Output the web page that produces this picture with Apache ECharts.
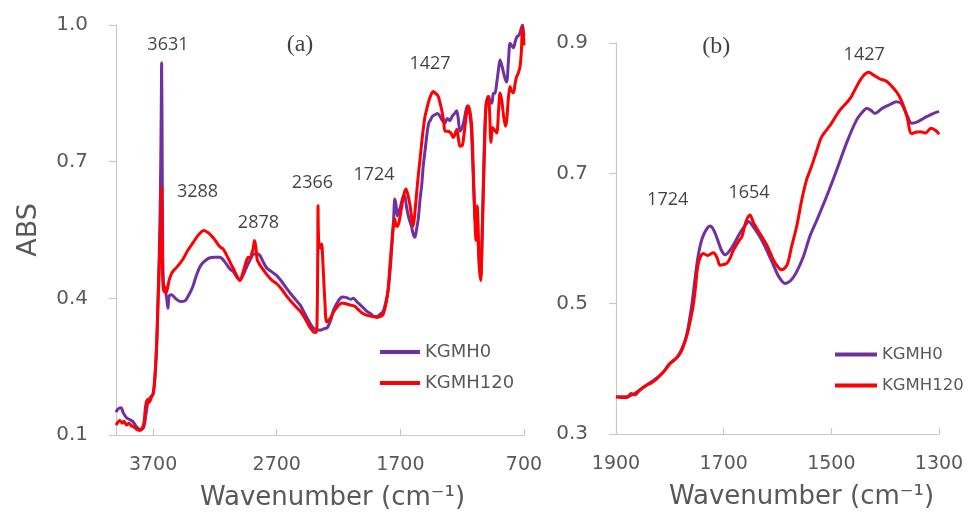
<!DOCTYPE html>
<html>
<head>
<meta charset="utf-8">
<script src="https://cdn.jsdelivr.net/npm/echarts@6/dist/echarts.min.js"></script>
<style>
  html, body { margin: 0; padding: 0; background: #fff; }
  #chart { width: 968px; height: 516px; }
</style>
</head>
<body>
<div id="chart"></div>
<script>
// FTIR absorbance spectra of KGMH0 and KGMH120, full range (a) and 1900–1300 cm-1 zoom (b)

const seriesNames = ['KGMH0', 'KGMH120'];

// Panel (a): wavenumber (cm-1) and absorbance
const fullWave0 = [4000,3985,3960,3940,3915,3890,3865,3840,3815,3795,3775,3755,3740,3720,3700,3685,3670,3660,3650,3640,3633,3631,3628,3622,3615,3600,3590,3580,3570,3550,3520,3480,3440,3410,3380,3350,3320,3290,3250,3200,3160,3120,3080,3050,3020,2998,2970,2944,2915,2890,2860,2836,2810,2782,2740,2700,2660,2620,2580,2540,2510,2470,2440,2405,2380,2350,2320,2290,2260,2240,2200,2170,2140,2100,2080,2050,2010,1973,1940,1910,1892,1860,1838,1815,1798,1780,1765,1755,1745,1735,1725,1715,1700,1680,1665,1650,1630,1612,1595,1582,1570,1555,1540,1528,1515,1500,1485,1470,1455,1440,1420,1400,1380,1360,1340,1320,1300,1280,1260,1245,1232,1218,1200,1185,1170,1158,1145,1128,1115,1102,1090,1080,1070,1060,1050,1040,1030,1018,1007,995,985,975,960,948,935,921,905,894,880,865,850,840,826,813,800,785,770,755,740,725,712,705,700];
const fullAbs0 = [0.150,0.157,0.160,0.148,0.138,0.134,0.130,0.120,0.113,0.112,0.118,0.150,0.175,0.183,0.190,0.225,0.300,0.400,0.500,0.650,0.850,0.917,0.800,0.500,0.430,0.415,0.400,0.378,0.405,0.408,0.400,0.393,0.395,0.408,0.425,0.450,0.470,0.480,0.488,0.490,0.490,0.480,0.465,0.458,0.445,0.440,0.452,0.468,0.485,0.497,0.498,0.494,0.480,0.467,0.458,0.450,0.437,0.422,0.408,0.395,0.385,0.365,0.350,0.335,0.332,0.330,0.333,0.336,0.355,0.375,0.395,0.403,0.402,0.398,0.400,0.392,0.382,0.372,0.366,0.360,0.360,0.366,0.372,0.395,0.420,0.470,0.530,0.570,0.618,0.605,0.581,0.590,0.600,0.622,0.625,0.600,0.575,0.560,0.540,0.534,0.550,0.575,0.620,0.647,0.690,0.725,0.760,0.785,0.792,0.800,0.803,0.806,0.800,0.790,0.785,0.795,0.790,0.800,0.806,0.812,0.795,0.767,0.775,0.790,0.812,0.822,0.815,0.780,0.700,0.610,0.560,0.600,0.520,0.470,0.445,0.520,0.640,0.760,0.825,0.840,0.843,0.830,0.828,0.850,0.850,0.872,0.905,0.923,0.912,0.895,0.880,0.875,0.920,0.960,0.955,0.950,0.965,0.975,0.978,0.990,1.000,0.985,0.975];

const fullWave120 = [4000,3985,3970,3950,3935,3915,3895,3875,3855,3830,3810,3795,3775,3760,3745,3730,3715,3700,3685,3670,3660,3650,3640,3633,3631,3628,3622,3615,3605,3595,3585,3570,3550,3537,3510,3480,3456,3420,3375,3340,3310,3290,3260,3230,3200,3160,3133,3100,3070,3052,3020,2998,2975,2950,2930,2915,2900,2890,2880,2870,2858,2840,2815,2780,2740,2700,2660,2620,2580,2540,2510,2470,2440,2405,2385,2375,2368,2366,2360,2345,2337,2325,2310,2296,2270,2240,2200,2170,2140,2100,2070,2040,2000,1960,1920,1890,1860,1838,1815,1800,1785,1770,1757,1745,1735,1725,1711,1690,1670,1655,1640,1622,1608,1596,1582,1568,1555,1541,1528,1515,1500,1487,1474,1455,1434,1415,1393,1380,1366,1350,1339,1320,1300,1285,1272,1258,1244,1230,1218,1200,1185,1164,1151,1137,1123,1112,1102,1088,1078,1070,1062,1050,1040,1029,1016,1007,989,980,967,955,940,921,905,894,880,865,850,840,826,813,800,785,770,759,745,732,722,712,705,700];
const fullAbs120 = [0.122,0.128,0.132,0.126,0.130,0.122,0.126,0.120,0.118,0.112,0.110,0.112,0.125,0.165,0.178,0.172,0.182,0.190,0.230,0.310,0.390,0.470,0.560,0.620,0.644,0.560,0.440,0.415,0.425,0.412,0.420,0.440,0.455,0.460,0.468,0.478,0.487,0.505,0.523,0.537,0.546,0.549,0.545,0.538,0.528,0.513,0.508,0.492,0.475,0.466,0.448,0.439,0.455,0.478,0.490,0.488,0.500,0.510,0.527,0.515,0.485,0.475,0.465,0.452,0.440,0.432,0.420,0.405,0.392,0.380,0.372,0.355,0.340,0.327,0.325,0.335,0.500,0.603,0.520,0.510,0.520,0.470,0.390,0.348,0.355,0.370,0.385,0.390,0.388,0.385,0.383,0.375,0.366,0.362,0.360,0.358,0.360,0.366,0.390,0.417,0.470,0.520,0.559,0.574,0.560,0.558,0.567,0.600,0.630,0.640,0.628,0.605,0.575,0.559,0.590,0.632,0.670,0.705,0.740,0.771,0.800,0.815,0.829,0.845,0.854,0.850,0.843,0.830,0.814,0.790,0.767,0.767,0.765,0.760,0.753,0.760,0.771,0.750,0.734,0.735,0.760,0.807,0.822,0.810,0.778,0.700,0.610,0.527,0.603,0.540,0.472,0.439,0.520,0.632,0.760,0.822,0.843,0.820,0.742,0.775,0.770,0.763,0.815,0.851,0.835,0.800,0.778,0.790,0.840,0.865,0.855,0.851,0.875,0.887,0.895,0.909,0.938,0.996,0.980,0.955];

// Panel (b): 1900–1300 cm-1 detail
const zoomWave0 = [1900,1890,1880,1868,1855,1843,1824,1812,1800,1787,1775,1768,1763,1758,1753,1747,1740,1732,1725,1718,1710,1703,1697,1690,1682,1670,1660,1654,1645,1633,1620,1608,1598,1586,1575,1565,1552,1540,1527,1509,1490,1472,1453,1440,1434,1427,1419,1405,1390,1379,1370,1360,1351,1340,1323,1310,1300];
const zoomAbs0 = [0.357,0.357,0.357,0.361,0.368,0.375,0.386,0.395,0.408,0.417,0.436,0.455,0.478,0.505,0.540,0.575,0.600,0.614,0.619,0.612,0.595,0.580,0.575,0.580,0.590,0.608,0.620,0.626,0.618,0.603,0.582,0.560,0.542,0.531,0.536,0.548,0.572,0.603,0.628,0.664,0.705,0.746,0.782,0.796,0.800,0.797,0.792,0.800,0.806,0.810,0.807,0.790,0.777,0.779,0.787,0.792,0.795];

const zoomWave120 = [1900,1890,1880,1872,1865,1855,1843,1835,1824,1812,1800,1790,1782,1775,1768,1763,1757,1753,1747,1738,1730,1719,1712,1707,1700,1694,1688,1682,1672,1666,1659,1651,1645,1633,1620,1608,1598,1592,1582,1574,1564,1555,1546,1537,1527,1518,1502,1484,1465,1450,1440,1431,1420,1410,1397,1379,1370,1360,1351,1343,1335,1325,1315,1305,1300];
const zoomAbs120 = [0.357,0.356,0.356,0.362,0.360,0.368,0.375,0.378,0.385,0.395,0.408,0.415,0.422,0.434,0.452,0.470,0.495,0.520,0.562,0.577,0.574,0.578,0.570,0.559,0.560,0.562,0.570,0.582,0.596,0.603,0.625,0.636,0.625,0.608,0.590,0.568,0.555,0.552,0.560,0.587,0.620,0.659,0.690,0.710,0.735,0.756,0.774,0.797,0.815,0.838,0.850,0.855,0.850,0.845,0.841,0.825,0.812,0.789,0.761,0.763,0.764,0.762,0.769,0.765,0.760];

// Tick values
const fullXTicks = [3700, 2700, 1700, 700];
const fullYTicks = [0.1, 0.4, 0.7, 1.0];
const zoomXTicks = [1900, 1700, 1500, 1300];
const zoomYTicks = [0.3, 0.5, 0.7, 0.9];

// Peak annotations: text and anchor in data units
const fullNotes = [['3631', 3580, 0.956], ['3288', 3341, 0.633], ['2878', 2848, 0.565], ['2366', 2411, 0.653], ['1724', 1913, 0.670], ['1427', 1460, 0.915]];
const zoomNotes = [['1724', 1804, 0.659], ['1654', 1653, 0.670], ['1427', 1439, 0.882]];
const panelTags = [['(a)', 2512, 0.956], ['(b)', 1714, 0.895]];

const PURPLE = '#7030a0';
const RED = '#ff0000';
const GREY_TEXT = '#595959';
const AXIS_GREY = '#c8c8c8';
const FONT = 'DejaVu Sans';

const pairs = (xs, ys) => xs.map((x, i) => [x, ys[i]]);

function xAxisFor(gridIndex, min, max, ticks, namePad) {
  return {
    type: 'value', gridIndex, min, max, inverse: true,
    splitLine: { show: false },
    axisLine: { show: true, lineStyle: { color: AXIS_GREY, width: 1.2 } },
    axisTick: { show: true, inside: true, length: 6, customValues: ticks, lineStyle: { color: AXIS_GREY, width: 1.2 } },
    axisLabel: { customValues: ticks, margin: 21, color: GREY_TEXT, fontFamily: FONT, fontSize: 19, formatter: v => String(v) },
    name: 'Wavenumber (cm\u207B\u00B9)',
    nameLocation: 'middle', nameGap: 50,
    nameTextStyle: { color: GREY_TEXT, fontFamily: FONT, fontSize: 26, padding: [0, 0, 0, namePad] }
  };
}

function yAxisFor(gridIndex, min, max, ticks, name) {
  return {
    type: 'value', gridIndex, min, max,
    splitLine: { show: false },
    axisLine: { show: true, lineStyle: { color: AXIS_GREY, width: 1.2 } },
    axisTick: { show: true, length: 7, customValues: ticks, lineStyle: { color: AXIS_GREY, width: 1.2 } },
    axisLabel: { customValues: ticks, margin: 28, color: GREY_TEXT, fontFamily: FONT, fontSize: 20, formatter: v => v.toFixed(1) },
    name: name, nameLocation: 'middle', nameGap: 74,
    nameTextStyle: { color: GREY_TEXT, fontFamily: FONT, fontSize: 27 }
  };
}

function lineSeries(name, data, color, idx) {
  return {
    name, type: 'line', data, xAxisIndex: idx, yAxisIndex: idx,
    showSymbol: false, symbol: 'none', smooth: 0.3,
    lineStyle: { color, width: 3 }, itemStyle: { color },
    animation: false
  };
}

function noteSeries(notes, idx, font, size) {
  return {
    type: 'scatter', xAxisIndex: idx, yAxisIndex: idx, silent: true,
    symbol: 'circle', symbolSize: 1, itemStyle: { color: 'transparent' },
    data: notes.map(n => ({ name: n[0], value: [n[1], n[2]] })),
    label: { show: true, position: 'inside', formatter: p => p.name, color: '#111', fontFamily: font, fontSize: size },
    animation: false, z: 5
  };
}

function legendFor(left, top, lineLen, size, gap) {
  return {
    data: seriesNames, orient: 'vertical', left, top, padding: 0,
    icon: 'rect', itemWidth: lineLen, itemHeight: 4, itemGap: gap,
    textStyle: { color: GREY_TEXT, fontFamily: FONT, fontSize: size },
    selectedMode: false
  };
}

const chart = echarts.init(document.getElementById('chart'), null, { renderer: 'canvas' });
chart.setOption({
  backgroundColor: '#ffffff',
  animation: false,
  grid: [
    { left: 116, right: 444, top: 25, bottom: 79 },
    { left: 616, right: 29, top: 43, bottom: 82 }
  ],
  xAxis: [
    xAxisFor(0, 700, 4000, fullXTicks, 25),
    xAxisFor(1, 1300, 1900, zoomXTicks, 48)
  ],
  yAxis: [
    yAxisFor(0, 0.1, 1.0, fullYTicks, 'ABS'),
    yAxisFor(1, 0.3, 0.9, zoomYTicks, '')
  ],
  legend: [legendFor(380, 343, 40, 18, 13), legendFor(835, 346, 42, 16.5, 14)],
  series: [
    lineSeries(seriesNames[0], pairs(fullWave0, fullAbs0), PURPLE, 0),
    lineSeries(seriesNames[1], pairs(fullWave120, fullAbs120), RED, 0),
    lineSeries(seriesNames[0], pairs(zoomWave0, zoomAbs0), PURPLE, 1),
    lineSeries(seriesNames[1], pairs(zoomWave120, zoomAbs120), RED, 1),
    noteSeries(fullNotes, 0, 'Open Sans', 18),
    noteSeries(zoomNotes, 1, 'Open Sans', 18),
    noteSeries([panelTags[0]], 0, 'Liberation Serif', 24),
    noteSeries([panelTags[1]], 1, 'Liberation Serif', 24)
  ]
});
</script>
</body>
</html>
